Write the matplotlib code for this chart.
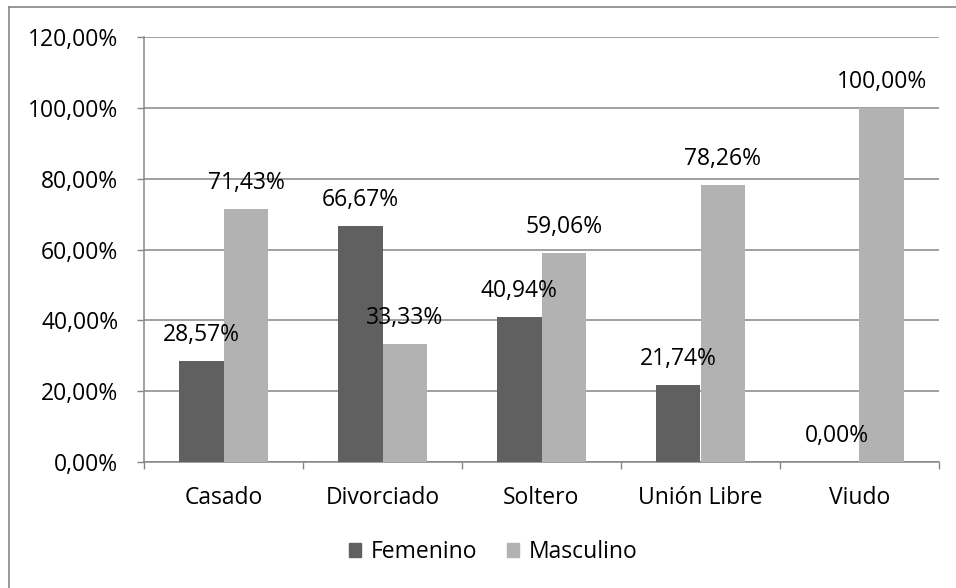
import numpy as np
import matplotlib
matplotlib.use("Agg")
from matplotlib import pyplot as plt
from matplotlib.patches import Patch
from matplotlib.lines import Line2D

# --- Data ---
categories = ["Casado", "Divorciado", "Soltero", "Unión Libre", "Viudo"]
femenino = [28.57, 66.67, 40.94, 21.74, 0.00]
masculino = [71.43, 33.33, 59.06, 78.26, 100.00]
series_names = ["Femenino", "Masculino"]
y_ticks = [0, 20, 40, 60, 80, 100, 120]

# --- Style ---
FONT = "Open Sans"
FS = 16.5
DARK, LIGHT = "#606060", "#b2b2b2"
GRID = "#868686"
plt.rcParams["font.family"] = [FONT, "DejaVu Sans"]


def fmt(v):
    return f"{v:.2f}%".replace(".", ",")


fig = plt.figure(figsize=(9.56, 5.88), dpi=100)
ax = fig.add_axes([144 / 956, 1 - 462 / 588, (939 - 144) / 956, (462 - 37) / 588])

# outer chart border (only left/top visible in the crop)
fig.add_artist(Line2D([8.5 / 956, 8.5 / 956], [0, 1 - 7 / 588], color=GRID, lw=1.2))
fig.add_artist(Line2D([8.5 / 956, 1], [1 - 7 / 588, 1 - 7 / 588], color=GRID, lw=1.2))

x = np.arange(len(categories))
w = 0.283
b1 = ax.bar(x - w / 2, femenino, w, color=DARK, zorder=3)
b2 = ax.bar(x + w / 2, masculino, w, color=LIGHT, zorder=3)

for bars, vals in ((b1, femenino), (b2, masculino)):
    for bar, v in zip(bars, vals):
        ax.annotate(fmt(v), (bar.get_x() + bar.get_width() / 2, v),
                    xytext=(0, 18.7), textcoords="offset points",
                    ha="center", va="center", fontsize=FS, color="black", zorder=4)

ax.set_xlim(-0.5, len(categories) - 0.5)
ax.set_ylim(0, 120)
ax.set_yticks(y_ticks)
ax.set_yticklabels([fmt(v) for v in y_ticks], fontsize=FS)
ax.set_xticks(x)
ax.set_xticklabels(categories, fontsize=FS)
ax.set_xticks(np.arange(len(categories) + 1) - 0.5, minor=True)
ax.tick_params(axis="x", which="major", length=0, pad=17)
ax.tick_params(axis="x", which="minor", length=5, color=GRID, width=1)
ax.tick_params(axis="y", length=5, color=GRID, width=1, pad=13.5)
ax.grid(axis="y", color=GRID, lw=1.1, zorder=0)
for s in ("top", "right"):
    ax.spines[s].set_visible(False)
for s in ("left", "bottom"):
    ax.spines[s].set_color(GRID)
    ax.spines[s].set_linewidth(1.1)

handles = [Patch(color=DARK), Patch(color=LIGHT)]
fig.legend(handles, series_names, loc="center", bbox_to_anchor=(493 / 956, 1 - 552 / 588),
           ncol=2, frameon=False, fontsize=FS, handlelength=0.55, handleheight=0.55,
           handletextpad=0.4, columnspacing=1.3)

fig.savefig("out.png", dpi=100, facecolor="white")
